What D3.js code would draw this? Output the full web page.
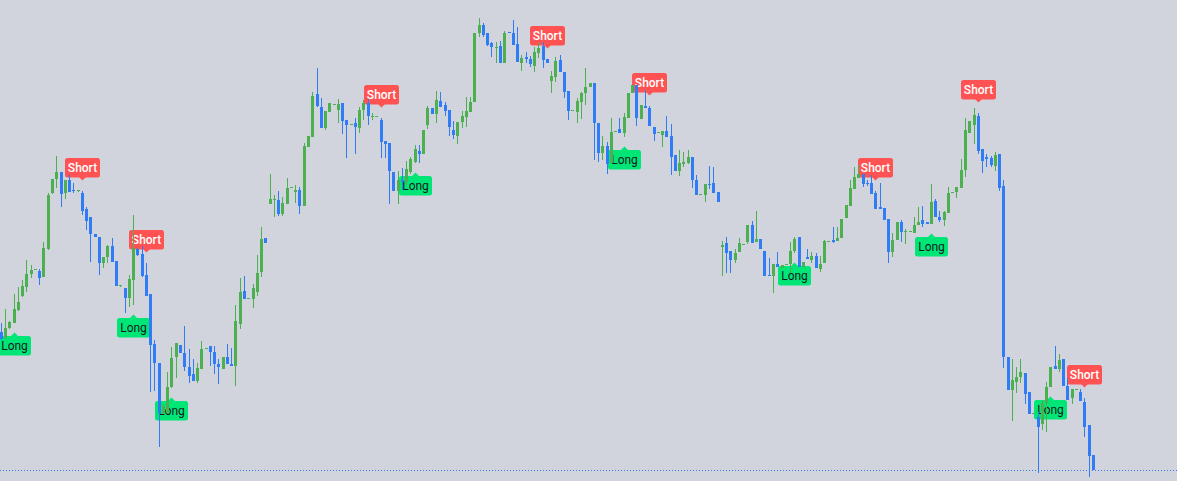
<!DOCTYPE html>
<html>
<head>
  <meta charset="utf-8">
  <script src="https://d3js.org/d3.v7.min.js"></script>
  <style>
    body { margin:0; background:#d1d4dc; overflow:hidden; }
  </style>
</head>
<body>
<script>
// bougies (open / high / low / close), une valeur par barre
var opens = [148,142,152,157,170,184,193,206,210,209,203,231,287,301,308,287,300,290,289,287,271,263,246,243,217,223,234,219,194,192,182,200,231,226,205,186,136,117,67,67,93,123,135,127,113,106,99,111,131,134,128,116,111,123,116,114,156,189,181,181,188,208,242,276,280,280,266,276,292,288,290,274,333,343,386,373,352,368,375,370,377,360,355,357,352,370,377,363,363,360,339,337,308,289,300,298,308,318,329,326,355,372,366,379,375,370,350,344,358,363,368,378,447,455,447,437,432,434,417,448,447,436,417,423,421,414,427,434,421,399,403,420,408,389,369,368,378,387,393,397,357,327,334,317,348,351,347,362,387,395,361,374,372,353,347,345,349,344,325,309,316,317,323,300,285,285,296,297,288,233,237,229,220,228,235,238,255,238,241,229,205,204,216,212,215,216,229,243,213,223,220,224,211,217,238,240,239,242,262,274,291,302,306,297,297,287,273,272,261,228,240,258,248,248,247,255,260,258,256,279,263,260,267,287,288,292,310,347,355,364,331,323,322,314,326,294,123,90,98,103,107,88,66,63,56,77,93,114,111,121,94,82,90,88,78,55,25];
var highs = [157,171,159,186,193,200,220,215,211,211,238,287,301,324,308,300,305,297,289,289,273,263,246,243,223,235,242,219,194,192,205,265,232,234,217,186,140,117,76,108,133,137,135,154,131,121,117,139,132,134,134,121,123,136,132,175,202,204,182,196,225,253,242,306,285,289,283,302,293,295,293,337,344,388,412,382,369,377,376,381,377,360,356,362,373,380,381,367,364,362,339,337,308,309,312,319,323,335,335,350,374,372,389,388,378,370,359,358,369,383,383,447,462,457,447,438,438,439,449,448,460,453,425,428,424,433,437,438,421,409,423,425,408,389,370,382,388,412,397,397,357,344,338,362,349,362,367,387,395,395,375,390,374,353,348,349,364,356,325,330,328,330,323,305,286,296,314,313,288,239,243,229,231,242,236,255,259,269,241,229,222,216,228,215,216,238,243,243,218,231,228,227,224,240,239,253,253,261,275,300,313,315,306,300,305,289,297,272,261,247,258,260,251,249,263,273,274,258,296,281,269,269,293,288,293,321,362,359,372,367,331,326,324,328,326,300,123,121,113,121,107,88,67,68,80,98,113,134,126,121,102,91,91,91,82,55,25];
var lows = [140,141,151,157,169,183,188,202,210,195,203,230,286,292,273,281,288,287,289,265,250,218,243,205,212,217,218,194,194,167,173,175,224,203,184,88,89,33,66,67,92,102,127,109,97,99,97,111,131,114,106,96,111,116,114,94,151,181,181,172,184,203,237,276,263,264,264,276,292,277,266,274,333,343,373,352,350,368,375,357,346,322,355,326,347,360,355,360,363,322,322,276,289,276,290,295,306,317,317,326,351,366,357,373,364,344,341,336,352,353,368,378,443,443,434,423,417,417,417,447,435,418,409,417,413,408,422,412,417,387,398,408,382,360,369,357,361,375,393,320,318,320,306,317,348,347,343,362,387,354,361,372,354,339,347,333,343,305,309,304,313,316,292,285,285,278,291,287,278,204,207,207,217,228,235,236,237,238,231,204,204,187,213,212,215,207,227,213,213,221,217,212,208,217,238,237,239,242,262,274,291,302,293,294,286,271,271,260,217,223,240,238,236,248,247,255,253,256,256,263,258,254,267,287,282,292,303,347,336,326,307,313,313,309,289,112,90,59,87,97,76,66,66,7,50,48,93,111,108,94,80,76,90,79,43,3,10];
var closes = [141,152,158,171,178,194,206,210,211,202,232,285,301,308,286,300,288,289,290,269,259,246,243,217,223,234,218,194,195,182,201,232,225,204,184,135,117,67,74,93,122,137,127,113,104,99,112,131,132,128,116,113,123,116,114,159,188,181,182,192,207,241,237,281,281,266,277,292,293,290,274,334,344,384,374,352,369,377,376,376,359,355,356,353,370,377,364,364,364,338,336,309,289,300,298,311,321,331,326,350,372,366,380,373,369,353,345,358,364,369,378,447,455,445,435,433,433,417,447,447,435,418,422,421,416,428,432,420,417,404,419,408,388,369,370,379,387,393,397,357,327,334,316,348,349,347,363,387,395,362,375,372,354,346,348,349,343,323,309,317,318,323,300,285,286,296,295,287,278,235,227,220,227,237,236,255,237,241,231,204,204,216,213,215,216,229,241,213,218,221,224,212,216,239,239,238,242,261,275,292,303,306,296,296,286,271,271,260,228,240,258,248,249,249,255,258,256,256,278,263,260,268,287,288,293,310,350,359,365,329,319,321,315,325,292,123,90,100,103,108,86,66,67,53,77,93,113,111,120,94,80,91,91,79,53,24,10];

// signaux (indice de la barre)
var shortBars = [19, 34, 89, 128, 152, 205, 229, 254];
var longBars = [3, 31, 40, 97, 146, 186, 218, 246];

var width = 1177, height = 481;
var green = "#4caf50", blue = "#2f7cf6";

var data = opens.map(function(o, i) {
  return {i: i, o: o, h: highs[i], l: lows[i], c: closes[i]};
});

var svg = d3.select("body").append("svg")
  .attr("width", width)
  .attr("height", height);

svg.append("rect")
  .attr("width", width)
  .attr("height", height)
  .attr("fill", "#d1d4dc");

var x = d3.scaleLinear().domain([0, data.length - 1]).range([1.3, 1093.5]);
var y = d3.scaleLinear().domain([0, 480]).range([480, 0]);

// etiquettes Short / Long
var shorts = svg.append("g").selectAll("g")
  .data(shortBars.map(function(i) { return data[i]; }))
  .enter().append("g")
  .attr("transform", function(d) {
    return "translate(" + (Math.round(x(d.i) - 0.5) + 0.5) + "," + Math.round(y(d.h) - 14) + ")";
  });
shorts.append("rect")
  .attr("x", -17.5).attr("y", -19)
  .attr("width", 35).attr("height", 19.5)
  .attr("rx", 2.5)
  .attr("fill", "#ff5252");
shorts.append("path")
  .attr("d", "M-3.5,0L3.5,0L0,3.5Z")
  .attr("fill", "#ff5252");
shorts.append("text")
  .attr("y", -5)
  .attr("text-anchor", "middle")
  .attr("font-family", "Roboto, sans-serif")
  .attr("font-size", "12px")
  .attr("font-weight", 500)
  .attr("fill", "#ffffff")
  .text("Short");

var longs = svg.append("g").selectAll("g")
  .data(longBars.map(function(i) { return data[i]; }))
  .enter().append("g")
  .attr("transform", function(d) {
    return "translate(" + (Math.round(x(d.i) - 0.5) + 0.5) + "," + Math.round(y(d.l) + 12.5) + ")";
  });
longs.append("rect")
  .attr("x", -16.5).attr("y", 0)
  .attr("width", 33).attr("height", 19.5)
  .attr("rx", 2.5)
  .attr("fill", "#00e676");
longs.append("path")
  .attr("d", "M-3.5,0L3.5,0L0,-3.5Z")
  .attr("fill", "#00e676");
longs.append("text")
  .attr("y", 14)
  .attr("text-anchor", "middle")
  .attr("font-family", "Roboto, sans-serif")
  .attr("font-size", "12px")
  .attr("fill", "#131722")
  .text("Long");

// bougies
var candles = svg.append("g").attr("shape-rendering", "crispEdges")
  .selectAll("g").data(data).enter().append("g")
  .attr("fill", function(d) { return d.c >= d.o ? green : blue; });

candles.append("rect")
  .attr("x", function(d) { return Math.round(x(d.i) - 0.5); })
  .attr("y", function(d) { return y(d.h); })
  .attr("width", 1)
  .attr("height", function(d) { return Math.max(1, y(d.l) - y(d.h)); });

candles.append("rect")
  .attr("x", function(d) { return Math.round(x(d.i) - 1.5); })
  .attr("y", function(d) { return y(Math.max(d.o, d.c)); })
  .attr("width", 3)
  .attr("height", function(d) { return Math.max(1, Math.abs(y(d.o) - y(d.c))); });

// ligne du dernier prix
svg.append("line")
  .attr("x1", 0).attr("x2", width)
  .attr("y1", Math.round(y(closes[closes.length - 1])) + 0.5)
  .attr("y2", Math.round(y(closes[closes.length - 1])) + 0.5)
  .attr("stroke", blue)
  .attr("stroke-width", 1)
  .attr("stroke-dasharray", "1,2");
</script>
</body>
</html>
